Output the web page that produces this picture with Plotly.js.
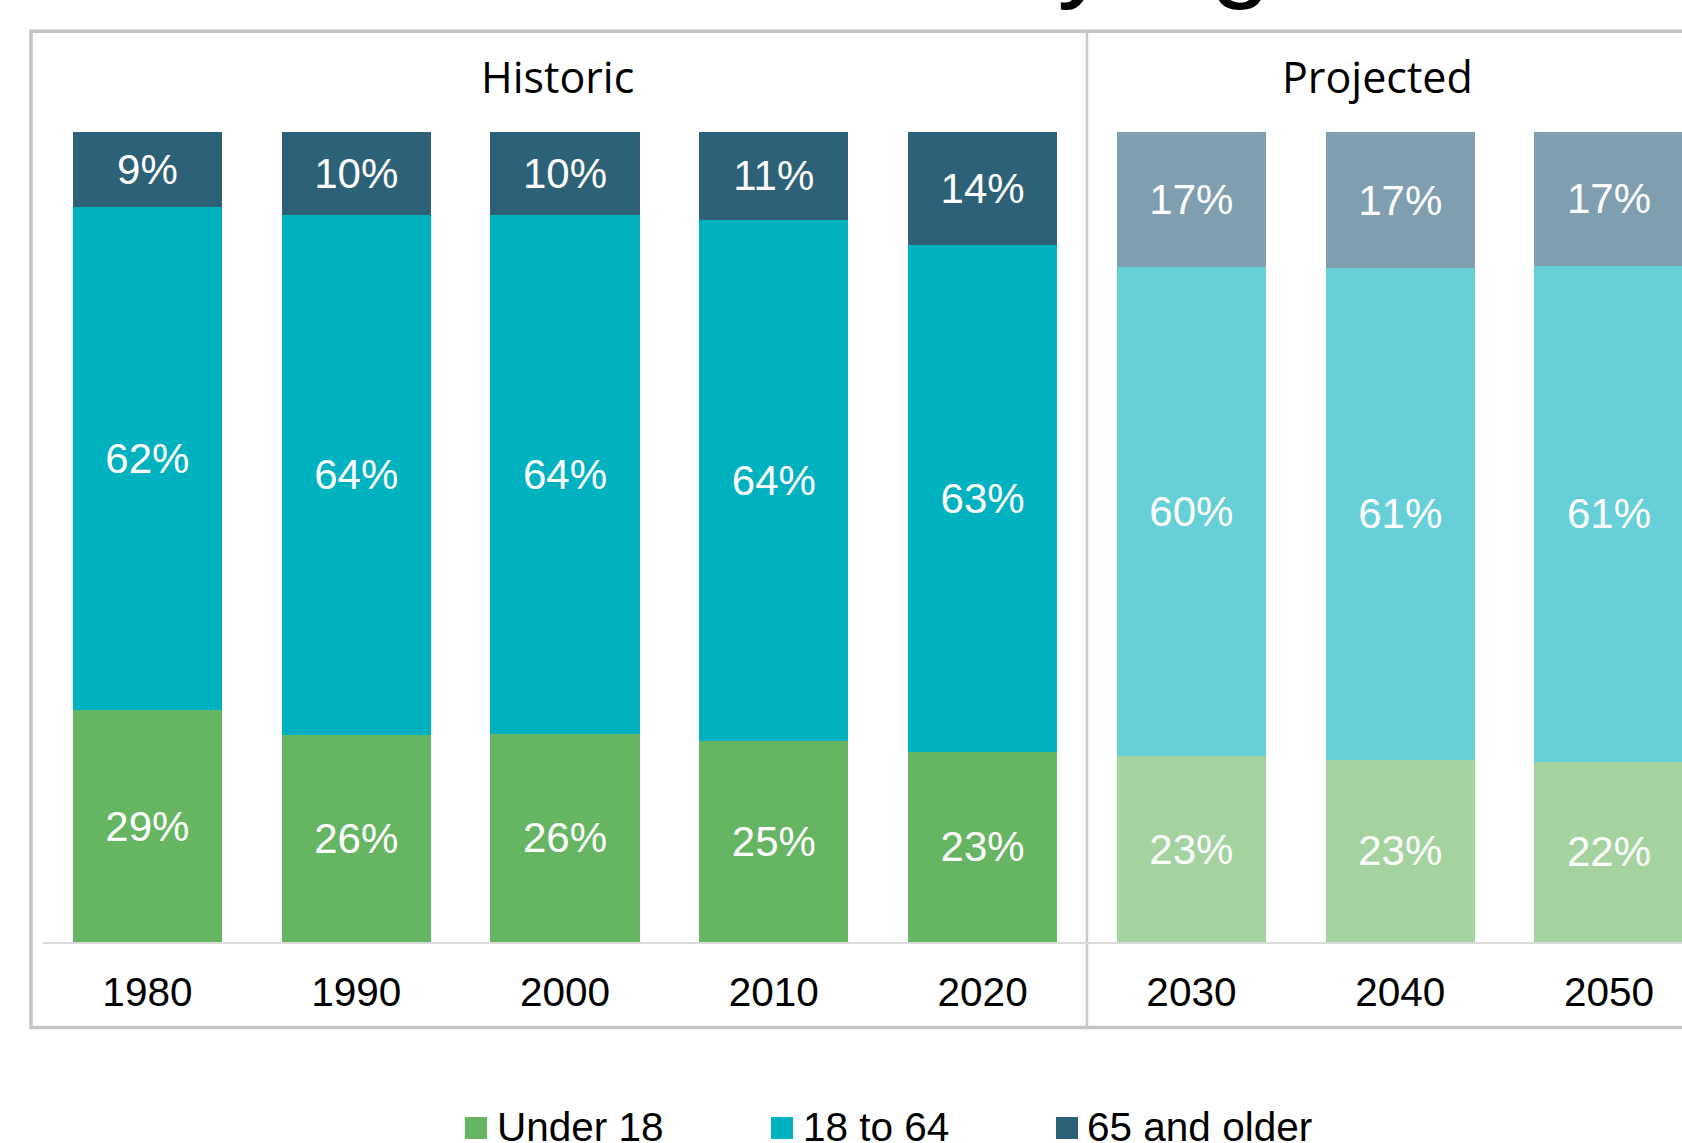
<!DOCTYPE html>
<html><head><meta charset="utf-8">
<script src="https://cdn.plot.ly/plotly-3.0.1.min.js"></script>
<style>html,body{margin:0;padding:0;background:#fff;} #chart{width:1682px;height:1143px;}</style>
</head><body><div id="chart"></div>
<script>
// ---- data ----
const years = ['1980','1990','2000','2010','2020','2030','2040','2050'];
const period = ['Historic','Historic','Historic','Historic','Historic','Projected','Projected','Projected'];
const under18 = [28.64,25.58,25.71,24.79,23.46,22.93,22.53,22.27];
const age18to64 = [62.10,64.23,64.10,64.36,62.64,60.39,60.65,61.19];
const age65plus = [9.26,10.19,10.19,10.85,13.90,16.68,16.82,16.54];
const seriesNames = ['Under 18','18 to 64','65 and older'];
const periodLabels = ['Historic','Projected'];
const chartTitle = 'Share of Residents by Age';

// ---- styles ----
const histColors = ['#66B563','#00B2BF','#2D6177'];
const projColors = ['#A4D3A0','#66CFD8','#7F9FB0'];
const W = 1682, H = 1143;
const M = {l:43, r:0, t:132, b:201};
const plotW = W - M.l - M.r, plotH = H - M.t - M.b;
const slot = 208.8; // px per category
const xRange = [-0.5, -0.5 + plotW / slot];
const X = px => (px - M.l) / plotW;           // pixel -> paper x
const Y = py => (H - M.b - py) / plotH;        // pixel -> paper y
const dataX = i => M.l + (i - xRange[0]) * slot; // category index -> pixel

const seriesVals = [under18, age18to64, age65plus];
const traces = seriesVals.map((vals, k) => ({
  type: 'bar',
  name: seriesNames[k],
  x: years,
  y: vals,
  marker: {color: period.map(p => p === 'Historic' ? histColors[k] : projColors[k]), line: {width: 0}},
  texttemplate: '%{y:.0f}%',
  textposition: 'inside',
  insidetextanchor: 'middle',
  constraintext: 'none',
  textangle: 0,
  textfont: {family: 'Liberation Sans, Arial, sans-serif', size: 42, color: '#FFFFFF'},
  showlegend: false,
  hoverinfo: 'skip'
}));

const firstProj = period.indexOf('Projected');
const dividerPx = dataX(firstProj - 0.5);

const shapes = [
  // outer frame
  {type:'rect', xref:'paper', yref:'paper', x0:X(31), x1:X(1730), y0:Y(1027.5), y1:Y(31.3),
   line:{color:'#C4C4C4', width:3.5}, fillcolor:'rgba(0,0,0,0)', layer:'below'},
  // divider between historic and projected
  {type:'line', xref:'paper', yref:'paper', x0:X(dividerPx), x1:X(dividerPx), y0:Y(1027.5), y1:Y(31.3),
   line:{color:'#C9C9C9', width:2.5}, layer:'below'}
];

const annotations = [
  {xref:'paper', yref:'paper', x:X(29), y:Y(11.5), xanchor:'left', yanchor:'bottom', showarrow:false, borderpad:0,
   text: chartTitle, font:{family:'Liberation Sans, Arial, sans-serif', size:110, color:'#000000'}},
  {xref:'paper', yref:'paper', x:X(557), y:Y(77), xanchor:'center', yanchor:'middle', showarrow:false, borderpad:0,
   text: periodLabels[0], font:{family:'Open Sans, sans-serif', size:43, color:'#000000'}},
  {xref:'paper', yref:'paper', x:X(1377), y:Y(77), xanchor:'center', yanchor:'middle', showarrow:false, borderpad:0,
   text: periodLabels[1], font:{family:'Open Sans, sans-serif', size:43, color:'#000000'}}
];

// custom legend
const legendSq = [465, 771, 1056];
const legendTxt = [496, 802, 1086];
seriesNames.forEach((nm, k) => {
  shapes.push({type:'rect', xref:'paper', yref:'paper', x0:X(legendSq[k]), x1:X(legendSq[k]+22),
    y0:Y(1139), y1:Y(1117), line:{width:0}, fillcolor:histColors[k]});
  annotations.push({xref:'paper', yref:'paper', x:X(legendTxt[k]), y:Y(1127), xanchor:'left', yanchor:'middle',
    showarrow:false, borderpad:0, text:nm, font:{family:'Liberation Sans, Arial, sans-serif', size:40.5, color:'#000000'}});
});

const layout = {
  width: W, height: H, autosize: false,
  margin: M,
  paper_bgcolor: '#FFFFFF', plot_bgcolor: '#FFFFFF',
  barmode: 'stack', bargap: 0.286,
  showlegend: false,
  xaxis: {type:'category', range: xRange, showgrid:false, zeroline:false,
    showline:true, linecolor:'#D9D9D9', linewidth:2, ticks:'', ticklabelstandoff: 13,
    tickfont:{family:'Liberation Sans, Arial, sans-serif', size:40.5, color:'#000000'}, fixedrange:true},
  yaxis: {range:[0,100], visible:false, showgrid:false, zeroline:false, fixedrange:true},
  shapes: shapes,
  annotations: annotations,
  hovermode: false
};

Plotly.newPlot('chart', traces, layout, {staticPlot:true, displayModeBar:false});
</script>
</body></html>
